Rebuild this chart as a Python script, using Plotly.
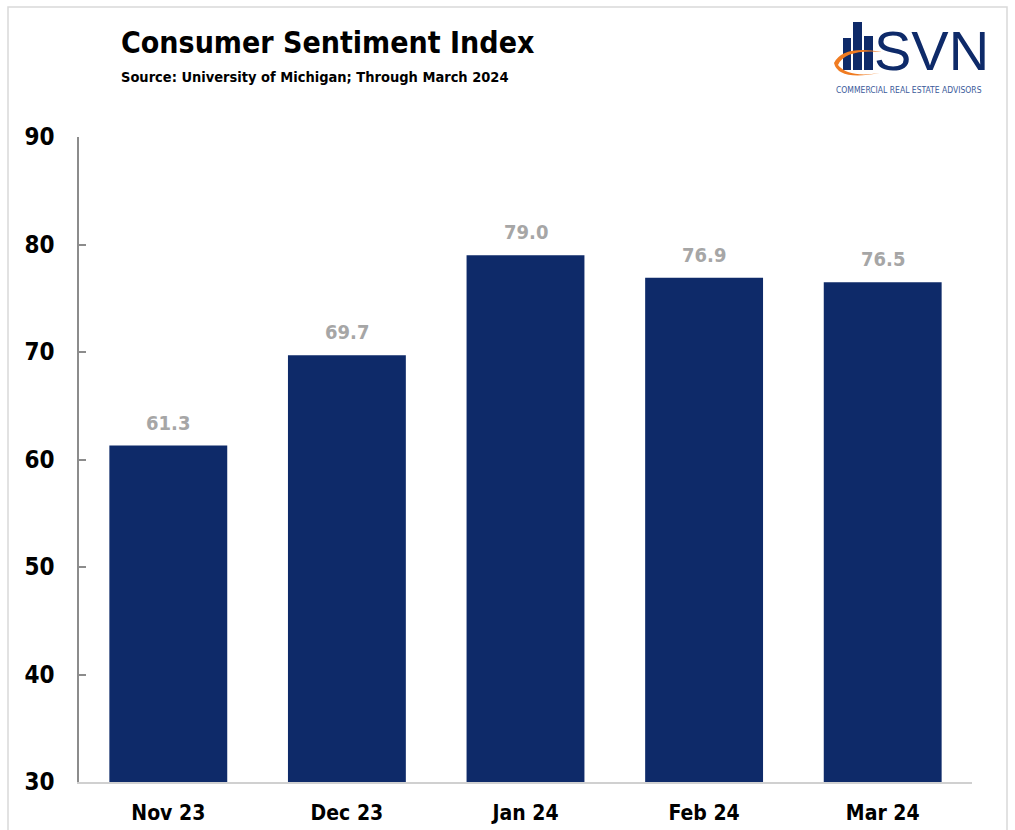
import plotly.graph_objects as go

# Consumer Sentiment Index, monthly readings
months = ["Nov 23", "Dec 23", "Jan 24", "Feb 24", "Mar 24"]
sentiment = [61.3, 69.7, 79.0, 76.9, 76.5]
y_ticks = [30, 40, 50, 60, 70, 80, 90]

NAVY = "#0e2a69"
LABEL_GRAY = "#a6a6a6"
FONT = "DejaVu Sans Condensed"

W, H = 1015, 830
L, R, T, B = 79, 43, 137, 48
PW, PH = W - L - R, H - T - B


def px_x(x):
    return (x - L) / PW


def px_y(y):
    return (H - B - y) / PH


fig = go.Figure(
    go.Bar(
        x=months,
        y=sentiment,
        marker=dict(color=NAVY, line=dict(width=0)),
        width=0.66,
        hoverinfo="x+y",
    )
)

# value labels above each bar
for m, v in zip(months, sentiment):
    fig.add_annotation(
        x=m, y=v, text=f"{v:.1f}", showarrow=False,
        yanchor="bottom", yshift=9,
        font=dict(family=FONT, size=20, color=LABEL_GRAY, weight="bold"),
    )

# title block
fig.add_annotation(
    xref="paper", yref="paper", x=px_x(119), y=px_y(43),
    xanchor="left", yanchor="middle", showarrow=False,
    text="<b>Consumer Sentiment Index</b>",
    font=dict(family=FONT, size=30, color="#000000"),
)
fig.add_annotation(
    xref="paper", yref="paper", x=px_x(119), y=px_y(77),
    xanchor="left", yanchor="middle", showarrow=False,
    text="<b>Source: University of Michigan; Through March 2024</b>",
    font=dict(family=FONT, size=14.5, color="#000000"),
)

# outer frame
shapes = [
    dict(type="rect", xref="paper", yref="paper",
         x0=px_x(8), x1=px_x(1007), y0=px_y(840), y1=px_y(7),
         line=dict(color="#d9d9d9", width=1.5), fillcolor="rgba(0,0,0,0)", layer="below"),
]

# SVN logo: building bars, orange swoosh, wordmark
for x0, x1, y0 in [(843, 851, 38), (853, 862, 22), (864, 873, 36)]:
    shapes.append(dict(type="rect", xref="paper", yref="paper",
                       x0=px_x(x0), x1=px_x(x1), y0=px_y(70), y1=px_y(y0),
                       line=dict(width=0), fillcolor=NAVY))
shapes.append(dict(
    type="path", xref="paper", yref="paper",
    path=(f"M {px_x(834)} {px_y(63)} "
          f"Q {px_x(838)} {px_y(81)} {px_x(880)} {px_y(73)} "
          f"Q {px_x(848)} {px_y(78)} {px_x(838)} {px_y(65)} "
          f"Q {px_x(845)} {px_y(49)} {px_x(882)} {px_y(52)} "
          f"Q {px_x(843)} {px_y(45)} {px_x(834)} {px_y(63)} Z"),
    line=dict(width=0), fillcolor="#f07c22"))

fig.add_annotation(
    xref="paper", yref="paper", x=px_x(931), y=px_y(83),
    xanchor="center", yanchor="bottom", showarrow=False, borderpad=0,
    text="SVN", font=dict(family="Liberation Sans", size=56, color=NAVY),
)
fig.add_annotation(
    xref="paper", yref="paper", x=px_x(909), y=px_y(84),
    xanchor="center", yanchor="top", showarrow=False, borderpad=0,
    text="COMMERCIAL REAL ESTATE ADVISORS",
    font=dict(family=FONT, size=8.5, color="#3a5a9a"),
)

fig.update_layout(
    width=W, height=H,
    margin=dict(l=L, r=R, t=T, b=B),
    paper_bgcolor="#ffffff",
    plot_bgcolor="#ffffff",
    showlegend=False,
    bargap=0.34,
    shapes=shapes,
    font=dict(family=FONT, color="#000000"),
)

fig.update_xaxes(
    showgrid=False, zeroline=False, automargin=False,
    showline=True, linecolor="#d0d0d0", linewidth=2,
    ticks="", ticklabelstandoff=11,
    tickfont=dict(family=FONT, size=21, color="#000000", weight="bold"),
)
fig.update_yaxes(
    range=[30, 90], tickvals=y_ticks, automargin=False,
    showgrid=False, zeroline=False,
    showline=True, linecolor="#8c8c8c", linewidth=1.5,
    ticks="inside", ticklen=7, tickcolor="#8c8c8c", tickwidth=1.5,
    ticklabelstandoff=18,
    tickfont=dict(family=FONT, size=24, color="#000000", weight="bold"),
)

fig.write_html("out.html")
